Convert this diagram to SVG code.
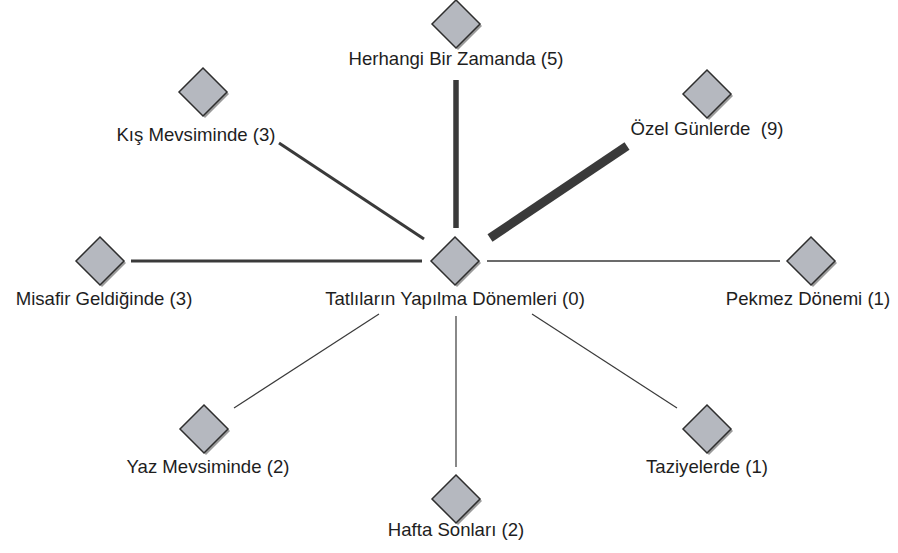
<svg xmlns="http://www.w3.org/2000/svg" width="898" height="553" viewBox="0 0 898 553">
<style>
.bg{fill:#ffffff}
.sh{fill:#9a9a9a}
.dm{fill:#b5b8bf;stroke:#2e2e2e;stroke-width:1.5;stroke-linejoin:miter}
.lb{font-family:"Liberation Sans",Arial,sans-serif;font-size:18.6px;fill:#1e1e1e}
.ln{stroke:#3a3a3a;stroke-linecap:butt;fill:none}
</style>
<defs>
<g id="d">
<path class="sh" d="M2,-22 L26,2 L2,26 L-22,2 Z"/>
<path class="dm" d="M0,-24 L24,0 L0,24 L-24,0 Z"/>
</g>
</defs>
<rect class="bg" width="898" height="553"/>
<g id="connectors">
<line class="ln" x1="456" y1="80" x2="456" y2="228" stroke-width="5.5"/>
<line class="ln" x1="279" y1="143" x2="424" y2="239" stroke-width="3"/>
<line class="ln" x1="627" y1="146" x2="490" y2="238" stroke-width="9"/>
<line class="ln" x1="131" y1="261" x2="422" y2="261" stroke-width="3"/>
<line class="ln" x1="487" y1="261" x2="780" y2="261" stroke-width="1.5"/>
<line class="ln" x1="379" y1="314" x2="234" y2="408" stroke-width="1.2"/>
<line class="ln" x1="456" y1="316" x2="456" y2="467" stroke-width="1.2"/>
<line class="ln" x1="532" y1="314" x2="677" y2="408" stroke-width="1.2"/>
</g>
<g id="n0"><use href="#d" x="455" y="261"/><text class="lb" x="455" y="305" text-anchor="middle">Tatlıların Yapılma Dönemleri (0)</text></g>
<g id="n1"><use href="#d" x="456" y="24"/><text class="lb" x="456" y="65" text-anchor="middle">Herhangi Bir Zamanda (5)</text></g>
<g id="n2"><use href="#d" x="203" y="92"/><text class="lb" x="196" y="141" text-anchor="middle">Kış Mevsiminde (3)</text></g>
<g id="n3"><use href="#d" x="707" y="94"/><text class="lb" x="707" y="135" text-anchor="middle" xml:space="preserve">Özel Günlerde  (9)</text></g>
<g id="n4"><use href="#d" x="100" y="261"/><text class="lb" x="104" y="305" text-anchor="middle">Misafir Geldiğinde (3)</text></g>
<g id="n5"><use href="#d" x="811" y="261"/><text class="lb" x="808" y="305" text-anchor="middle">Pekmez Dönemi (1)</text></g>
<g id="n6"><use href="#d" x="204" y="429"/><text class="lb" x="208" y="473" text-anchor="middle">Yaz Mevsiminde (2)</text></g>
<g id="n7"><use href="#d" x="456" y="499"/><text class="lb" x="456" y="536" text-anchor="middle">Hafta Sonları (2)</text></g>
<g id="n8"><use href="#d" x="707" y="429"/><text class="lb" x="707" y="473" text-anchor="middle">Taziyelerde (1)</text></g>
</svg>
